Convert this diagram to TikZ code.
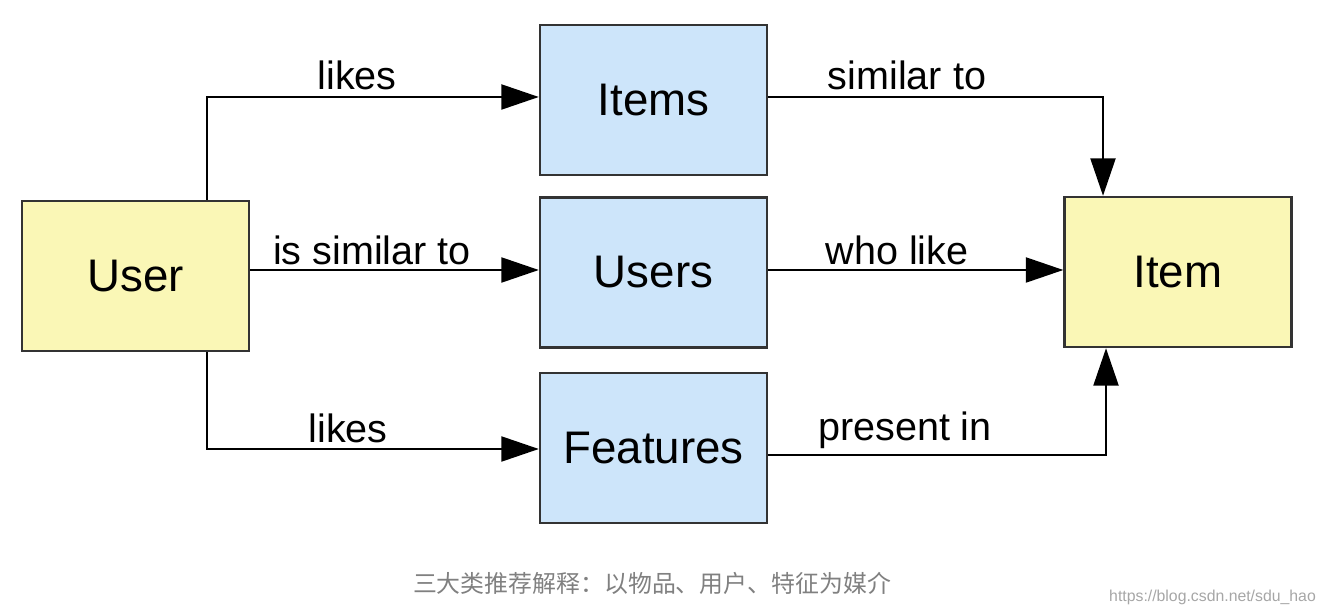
\documentclass[tikz,border=0pt]{standalone}
\usepackage{fontspec}
\setmainfont{Liberation Sans}
\newfontfamily\cjk{Noto Sans CJK SC}
\usetikzlibrary{arrows.meta}
\definecolor{yfill}{HTML}{FAF7B6}
\definecolor{bfill}{HTML}{CDE5FA}
\definecolor{bord}{HTML}{333333}
\begin{document}
\begin{tikzpicture}[x=0.02cm,y=-0.02cm,
  box/.style={draw=bord,line width=1.4pt,minimum width=4.54cm,minimum height=3cm,inner sep=0pt,font=\fontsize{26}{30}\selectfont},
  ybox/.style={box,fill=yfill},
  bbox/.style={box,fill=bfill},
  conn/.style={line width=1.3pt,-{Triangle[length=0.75cm,width=0.5cm]}},
  lab/.style={font=\fontsize{22.5}{26}\selectfont}]
\useasboundingbox (0,0) rectangle (1328,614);
\node[ybox] (user) at (135.5,276) {User};
\node[bbox] (items) at (653.5,100) {Items};
\node[bbox] (users) at (653.5,272.5) {Users};
\node[bbox] (feat) at (653.5,448) {Features};
\node[ybox] (item) at (1178,272) {Item};
\coordinate (c1) at (207,97);
\coordinate (c2) at (207,449);
\coordinate (c3) at (1103,97);
\coordinate (c4) at (1106,455);
\draw[conn] (user.north -| c1) -- (c1) -- (items.west |- c1);
\draw[conn] (user.east |- 0,270) -- (users.west |- 0,270);
\draw[conn] (user.south -| c2) -- (c2) -- (feat.west |- c2);
\draw[conn] (items.east |- c3) -- (c3) -- (item.north -| c3);
\draw[conn] (users.east |- 0,270) -- (item.west |- 0,270);
\draw[conn] (feat.east |- c4) -- (c4) -- (item.south -| c4);
\node[lab] (l1) at (357,75) {likes};
\node[lab] (l2) at (372,250) {is similar to};
\node[lab] (l3) at (348,428) {likes};
\node[lab] (l4) at (907,75) {similar to};
\node[lab] (l5) at (897,250) {who like};
\node[lab] (l6) at (905,430) {present in};
\node[font=\cjk\fontsize{13.6}{15}\selectfont,text=gray] (cap) at (652,583) {三大类推荐解释：以物品、用户、特征为媒介};
\node[font=\fontsize{9}{10}\selectfont,text=gray!70,anchor=east] (wm) at (1322,597) {https://blog.csdn.net/sdu\_hao};
\end{tikzpicture}
\end{document}
